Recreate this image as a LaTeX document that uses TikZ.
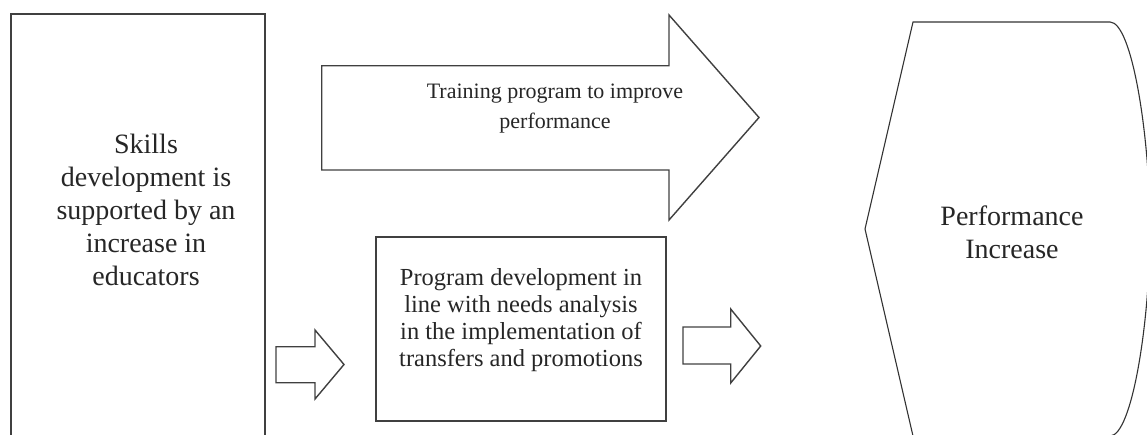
\documentclass[tikz,border=0pt]{standalone}
\usepackage{fontspec}
\setmainfont{Liberation Serif}
\begin{document}
\begin{tikzpicture}[x=1pt,y=-1pt,
  outline/.style={draw=black!75, line width=1.4pt, line join=miter},
  thinoutline/.style={draw=black!80, line width=1.1pt, line join=miter},
  txt/.style={align=center, inner sep=0pt, text=black!85},
  toptxt/.style={txt, font=\fontsize{22}{30}\selectfont},
  midtxt/.style={txt, font=\fontsize{24.5}{27}\selectfont},
  bigtxt/.style={txt, font=\fontsize{28}{33}\selectfont}]
\useasboundingbox (0,0) rectangle (1147,434);
\clip (0,0) rectangle (1147,434);

% left column box
\draw[outline] (11,14) rectangle (265,445);
\node[bigtxt] (skills) at (146,210) {Skills\\development is\\supported by an\\increase in\\educators};

% large block arrow along the top
\draw[outline] (321.7,65.7) -- (669,65.7) -- (669,15) -- (759,117.5) -- (669,220) -- (669,170) -- (321.7,170) -- cycle;
\node[toptxt] (training) at (555,109) {Training program to improve\\performance};

% small block arrow into the middle box
\draw[outline] (276,346.7) -- (315,346.7) -- (315,330) -- (344,364.5) -- (315,399) -- (315,382.7) -- (276,382.7) -- cycle;

% middle box
\draw[outline] (376,237) rectangle (666,421);
\node[midtxt] (program) at (521,320) {Program development in\\line with needs analysis\\in the implementation of\\transfers and promotions};

% small block arrow out of the middle box
\draw[outline] (683,327) -- (730.7,327) -- (730.7,309) -- (760.7,346) -- (730.7,383) -- (730.7,364) -- (683,364) -- cycle;

% display-shaped outcome on the right
\draw[thinoutline] (865,229) -- (913,22) -- (1110,22)
  .. controls (1132,22) and (1150,136) .. (1150,229)
  .. controls (1150,322) and (1132,436) .. (1110,436)
  -- (913,436) -- cycle;
\node[bigtxt] (outcome) at (1012,232) {Performance\\Increase};
\end{tikzpicture}
\end{document}
